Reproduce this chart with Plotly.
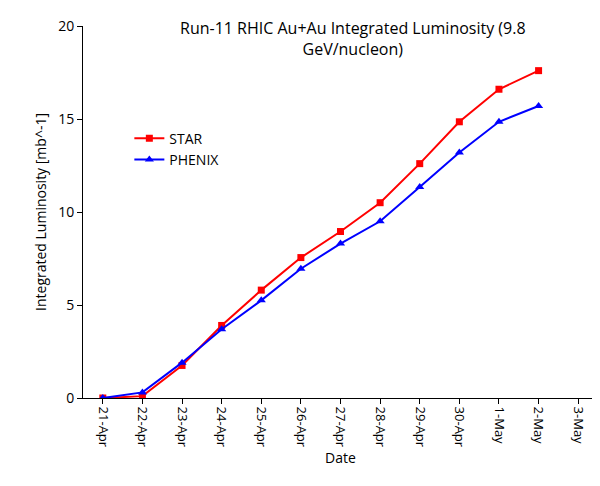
import plotly.graph_objects as go

dates = ["21-Apr", "22-Apr", "23-Apr", "24-Apr", "25-Apr", "26-Apr", "27-Apr",
         "28-Apr", "29-Apr", "30-Apr", "1-May", "2-May", "3-May"]
star = [0.0, 0.1, 1.75, 3.9, 5.8, 7.55, 8.95, 10.5, 12.6, 14.85, 16.6, 17.6]
phenix = [0.0, 0.3, 1.9, 3.7, 5.25, 6.95, 8.3, 9.5, 11.35, 13.2, 14.85, 15.7]

fig = go.Figure()
fig.add_trace(go.Scatter(x=dates[:len(star)], y=star, name="STAR", mode="lines+markers",
                         line=dict(color="#ff0000", width=2),
                         marker=dict(symbol="square", size=7)))
fig.add_trace(go.Scatter(x=dates[:len(phenix)], y=phenix, name="PHENIX", mode="lines+markers",
                         line=dict(color="#0000ff", width=2),
                         marker=dict(symbol="triangle-up", size=8)))

# title drawn as annotation so it can overlap the top of the plot area
fig.add_annotation(text="Run-11 RHIC Au+Au Integrated Luminosity (9.8<br>GeV/nucleon)",
                   xref="paper", yref="paper", x=0.525, y=1.03, xanchor="center",
                   yanchor="top", showarrow=False, font=dict(size=16))

fig.update_layout(
    width=600, height=486,
    margin=dict(l=75, r=10, t=18, b=96),
    plot_bgcolor="white", paper_bgcolor="white",
    font=dict(family="Open Sans, sans-serif", size=13, color="black"),
    legend=dict(x=0.09, y=0.74, xanchor="left", yanchor="top",
                bgcolor="rgba(0,0,0,0)", font=dict(size=14)),
    xaxis=dict(type="category", categoryarray=dates, categoryorder="array",
               range=[-0.5, 12.5], tickvals=dates, tickangle=90, automargin=False,
               showline=True, linecolor="black", ticks="outside", tickcolor="black",
               showgrid=False, title=dict(text="Date", standoff=5, font=dict(size=14))),
    yaxis=dict(range=[0, 20], dtick=5, showline=True, linecolor="black", automargin=False,
               ticks="outside", tickcolor="black", showgrid=False, tickfont=dict(size=14),
               title=dict(text="Integrated Luminosity [mb^-1]", standoff=8, font=dict(size=14))),
)

fig.write_html("out.html")
